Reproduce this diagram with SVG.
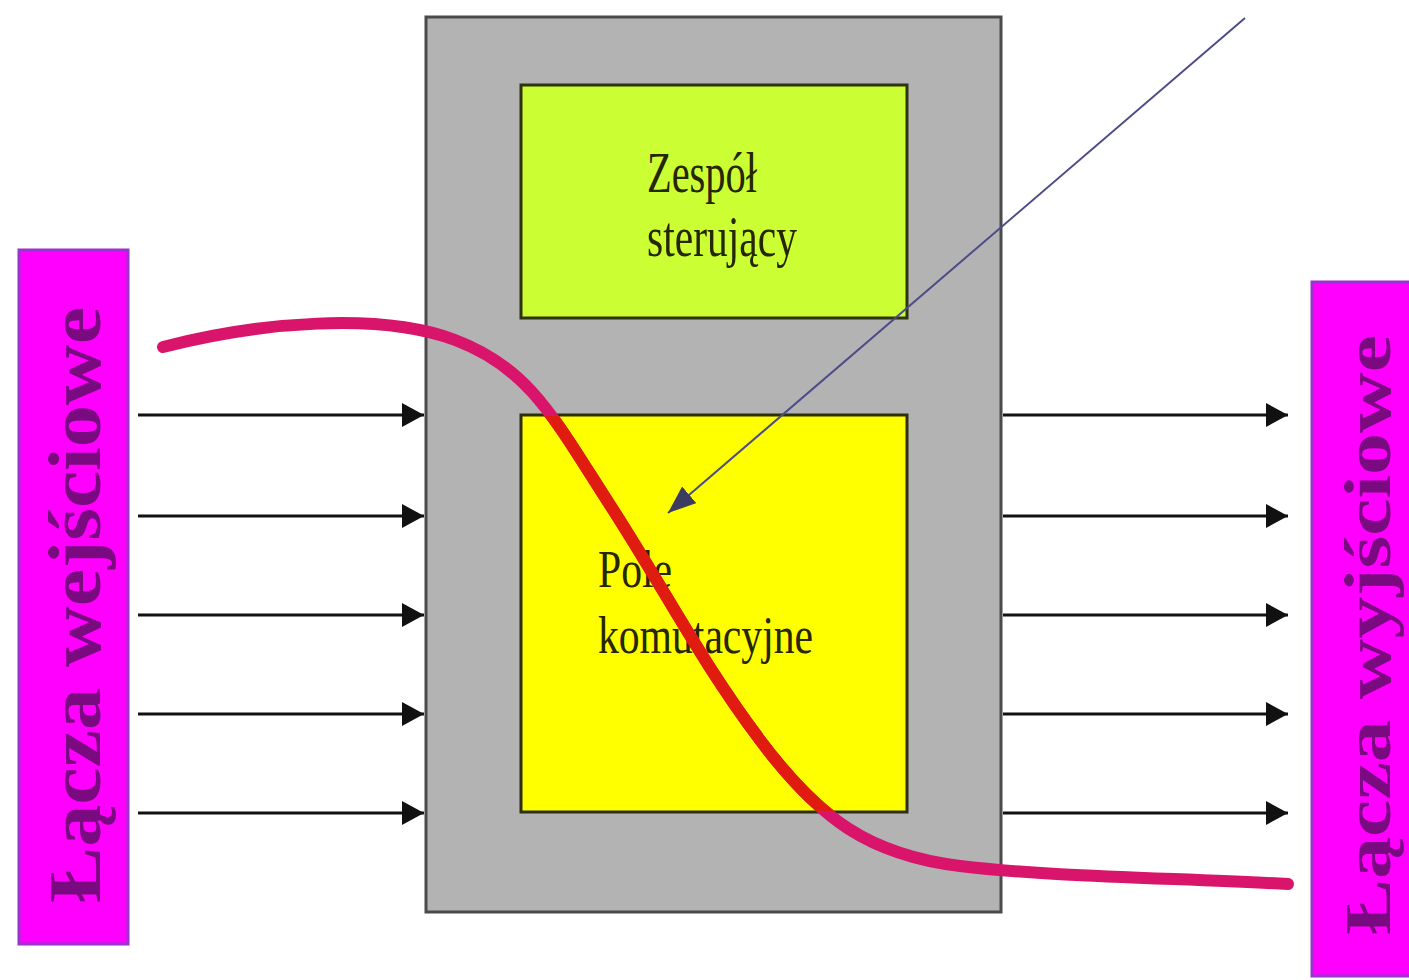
<svg xmlns="http://www.w3.org/2000/svg" width="1409" height="980" viewBox="0 0 1409 980">
  <style>
    .frame { fill: #b3b3b3; stroke: #4a4a4a; stroke-width: 3; }
    .ctrl { fill: #ccff33; stroke: #2e3310; stroke-width: 3; }
    .field { fill: #ffff00; stroke: #2e2e10; stroke-width: 3; }
    .port { fill: #ff00ff; stroke: #9933cc; stroke-width: 3; }
    .lbl { font-family: "Liberation Serif", "Times New Roman", serif; fill: #262600; }
    .vlbl { font-family: "Liberation Serif", "Times New Roman", serif; font-weight: bold; fill: #7a0a80; }
    .link { stroke: #111; stroke-width: 3; fill: none; marker-end: url(#head); }
    .ctl-link { stroke: #4c4c88; stroke-width: 2; fill: none; marker-end: url(#head2); }
    .route { stroke: #d8156a; stroke-width: 12; fill: none; stroke-linecap: round; }
    .route-in { stroke: #e01c10; stroke-width: 12; fill: none; }
  </style>
  <defs>
    <marker id="head" markerUnits="userSpaceOnUse" markerWidth="24" markerHeight="26" refX="22" refY="12" orient="auto">
      <path d="M0,0 L22,12 L0,24 z" fill="#111"/>
    </marker>
    <marker id="head2" markerUnits="userSpaceOnUse" markerWidth="30" markerHeight="26" refX="28" refY="11" orient="auto">
      <path d="M0,0 L28,11 L0,22 z" fill="#3c3c60"/>
    </marker>
    <clipPath id="fieldClip">
      <rect x="522" y="416" width="384" height="395"/>
    </clipPath>
    <path id="routePath" d="M163,347 C260,322 380,312 455,340 S555,420 610,505 S700,660 760,740 S870,855 960,866 S1180,878 1288,884"/>
  </defs>

  <rect width="1409" height="980" fill="#ffffff"/>

  <!-- switching node frame -->
  <g id="node-switch">
    <rect class="frame" x="426" y="17" width="575" height="895"/>
  </g>

  <!-- control unit -->
  <g id="node-control">
    <rect class="ctrl" x="521" y="85" width="386" height="233"/>
    <text class="lbl" x="647" y="192" font-size="56" textLength="110" lengthAdjust="spacingAndGlyphs">Zespół</text>
    <text class="lbl" x="647" y="256" font-size="56" textLength="150" lengthAdjust="spacingAndGlyphs">sterujący</text>
  </g>

  <!-- switching field -->
  <g id="node-field">
    <rect class="field" x="521" y="415" width="386" height="397"/>
    <text class="lbl" x="598" y="587" font-size="52" textLength="74" lengthAdjust="spacingAndGlyphs">Pole</text>
    <text class="lbl" x="598" y="653" font-size="52" textLength="215" lengthAdjust="spacingAndGlyphs">komutacyjne</text>
  </g>

  <!-- input links -->
  <g id="node-inputs">
    <rect class="port" x="19" y="250" width="109" height="694"/>
    <text class="vlbl" transform="translate(100,903) rotate(-90)" font-size="74" textLength="596" lengthAdjust="spacingAndGlyphs">Łącza wejściowe</text>
  </g>

  <!-- output links -->
  <g id="node-outputs">
    <rect class="port" x="1312" y="282" width="110" height="694"/>
    <text class="vlbl" transform="translate(1390,935) rotate(-90)" font-size="66" textLength="600" lengthAdjust="spacingAndGlyphs">Łącza wyjściowe</text>
  </g>

  <!-- connectors -->
  <g id="connectors">
    <line class="link" x1="138" y1="415" x2="424" y2="415"/>
    <line class="link" x1="138" y1="516" x2="424" y2="516"/>
    <line class="link" x1="138" y1="615" x2="424" y2="615"/>
    <line class="link" x1="138" y1="714" x2="424" y2="714"/>
    <line class="link" x1="138" y1="813" x2="424" y2="813"/>

    <line class="link" x1="1003" y1="415" x2="1288" y2="415"/>
    <line class="link" x1="1003" y1="516" x2="1288" y2="516"/>
    <line class="link" x1="1003" y1="615" x2="1288" y2="615"/>
    <line class="link" x1="1003" y1="714" x2="1288" y2="714"/>
    <line class="link" x1="1003" y1="813" x2="1288" y2="813"/>

    <line class="ctl-link" x1="1245" y1="18" x2="668" y2="513"/>

    <!-- connection path through the switch; red where it crosses the field -->
    <use href="#routePath" class="route"/>
    <use href="#routePath" class="route-in" clip-path="url(#fieldClip)"/>
  </g>
</svg>
